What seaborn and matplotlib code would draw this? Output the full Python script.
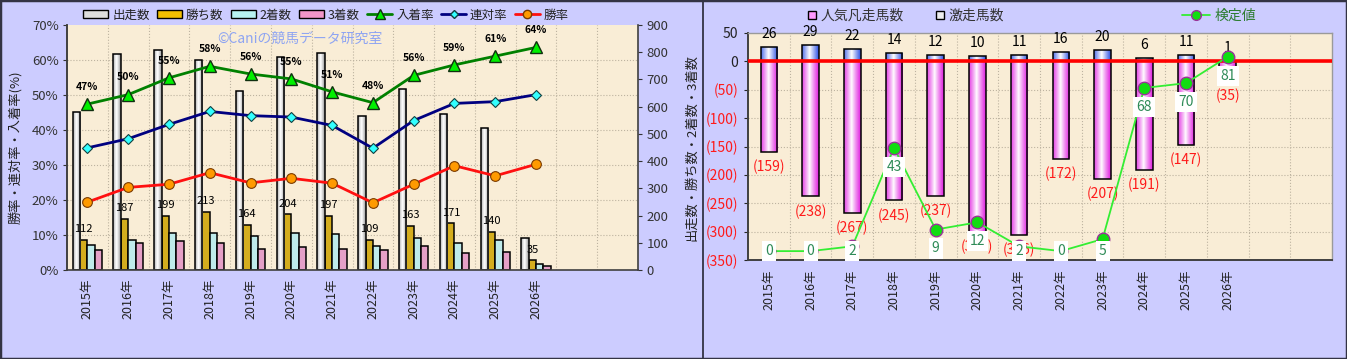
import numpy as np
import pandas as pd
import matplotlib
matplotlib.use("Agg")
import matplotlib.pyplot as plt
import matplotlib.colors as mcolors
import seaborn as sns
from matplotlib.patches import Rectangle, Patch
from matplotlib.lines import Line2D
from matplotlib.ticker import FixedLocator, FuncFormatter

# ---------------- data ----------------
years = ['2015年', '2016年', '2017年', '2018年', '2019年', '2020年',
         '2021年', '2022年', '2023年', '2024年', '2025年', '2026年']
runs = [579, 793, 808, 770, 659, 781, 798, 567, 664, 574, 520, 116]
wins = [112, 187, 199, 213, 164, 204, 197, 109, 163, 171, 140, 35]
seconds = [91, 109, 137, 135, 126, 137, 132, 88, 119, 100, 109, 21]
thirds = [72, 100, 108, 98, 78, 83, 78, 73, 88, 61, 66, 15]
place_rate = [47.4, 50.1, 54.9, 58.2, 56.0, 54.6, 50.9, 47.8, 55.6, 58.6, 61.1, 63.6]
quinella_rate = [34.9, 37.5, 41.6, 45.3, 44.1, 43.7, 41.3, 34.8, 42.7, 47.6, 48.1, 50.1]
win_rate = [19.4, 23.6, 24.5, 27.8, 24.9, 26.2, 24.8, 19.2, 24.5, 29.8, 26.9, 30.2]
bar_series = ['出走数', '勝ち数', '2着数', '3着数']
line_series = ['入着率', '連対率', '勝率']

gekisou = [26, 29, 22, 14, 12, 10, 11, 16, 20, 6, 11, 1]
ninki_bonsou = [159, 238, 267, 245, 237, 300, 306, 172, 207, 191, 147, 35]
kentei = [0, 0, 2, 43, 9, 12, 2, 0, 5, 68, 70, 81]
right_series = ['人気凡走馬数', '激走馬数', '検定値']

# ---------------- style ----------------
sns.set_style("white")
plt.rcParams['font.family'] = ['Noto Sans CJK JP', 'DejaVu Sans']
plt.rcParams['axes.unicode_minus'] = False

BG = '#CCCCFF'
PLOT_BG = '#F9EDD6'
GRID = '#BDB3A0'
TXT = '#333333'

W, H = 1347, 359
fig = plt.figure(figsize=(W / 100, H / 100), dpi=100, facecolor=BG)


def fx(px):
    return px / W


def fy(py):
    return 1 - py / H


def cylinder(ax, patches, edge, center, power=1.3):
    e = np.array(mcolors.to_rgb(edge))
    c = np.array(mcolors.to_rgb(center))
    t = np.linspace(-1, 1, 101)
    wgt = 1 - np.abs(t + 0.1) ** power
    wgt = np.clip(wgt, 0, 1)
    img = e[None, :] * (1 - wgt[:, None]) + c[None, :] * wgt[:, None]
    img = img[None, :, :]
    for p in patches:
        x0, w_ = p.get_x(), p.get_width()
        y0, h = p.get_y(), p.get_height()
        lo, hi = sorted([y0, y0 + h])
        if hi - lo == 0:
            continue
        z = p.get_zorder()
        im = ax.imshow(img, extent=[x0, x0 + w_, lo, hi], origin='lower',
                       aspect='auto', interpolation='bilinear', zorder=z + 0.01)
        im.set_clip_path(p)
        p.set_facecolor('none')
        p.set_zorder(z + 0.02)


n = len(years)
xpos = np.arange(n)

# ================= LEFT CHART =================
axL = fig.add_axes([fx(67), fy(270), fx(638 - 67), (270 - 25) / H])
axL.set_facecolor(PLOT_BG)

df_bars = pd.DataFrame({
    'year': np.repeat(years, 4),
    'series': bar_series * n,
    'value': np.ravel(np.column_stack([runs, wins, seconds, thirds])),
})
bar_colors = ['#F2F2F2', '#F2BE00', '#B8F2F2', '#F095C8']
sns.barplot(data=df_bars, x='year', y='value', hue='series', order=years,
            hue_order=bar_series, palette=bar_colors, width=0.72, gap=0,
            edgecolor='black', linewidth=1.1, errorbar=None, legend=False,
            ax=axL, zorder=2)
cylinder(axL, axL.containers[0].patches, '#9A9A9A', '#FFFFFF', power=1.2)

axL.set_xlim(-0.5, 13.5)
axL.set_ylim(0, 900)
for k in range(1, 7):
    axL.axhline(900 * k / 7, color=GRID, ls=':', lw=0.8, zorder=0.5)
for i in range(13):
    axL.axvline(i + 0.5, color=GRID, ls=':', lw=0.8, zorder=0.5)

# 勝ち数 labels
gold_patches = axL.containers[1].patches
for p, v in zip(gold_patches, wins):
    axL.text(p.get_x() + p.get_width() / 2, v + 40, str(v), ha='center',
             va='center', fontsize=8, color='black', zorder=5)

# rate lines on a twin axis (its ticks go to the left side)
axL2 = axL.twinx()

axL.yaxis.tick_right()
axL.yaxis.set_label_position('right')
axL.yaxis.set_major_locator(FixedLocator(range(0, 901, 100)))
axL.set_ylabel('出走数・勝ち数・2着数・3着数', fontsize=9.5, color='#222222')
axL.yaxis.set_label_coords((685 - 67) / 571, 0.5)
axL.set_xlabel('')
axL.set_xticks(xpos)
axL.set_xticklabels(years, rotation=90, fontsize=9, color='#222222')
axL.tick_params(axis='y', direction='out', length=3, labelsize=9.5, colors=TXT, pad=3)
axL.tick_params(axis='x', length=0, pad=6)
for s in ['left', 'bottom', 'right']:
    axL.spines[s].set_color('#404040')
    axL.spines[s].set_linewidth(1.2)
axL.spines['top'].set_visible(False)

axL2.yaxis.tick_left()
axL2.yaxis.set_label_position('left')
for s in ['top', 'right', 'bottom']:
    axL2.spines[s].set_visible(False)
axL2.spines['left'].set_color('#404040')
axL2.spines['left'].set_linewidth(1.2)

sns.lineplot(x=xpos, y=place_rate, ax=axL2, color='#008000', lw=2,
             marker='^', markersize=9, markerfacecolor='#00F000',
             markeredgecolor='#103010', markeredgewidth=1)
sns.lineplot(x=xpos, y=quinella_rate, ax=axL2, color='#000080', lw=2,
             marker='D', markersize=5.5, markerfacecolor='#33FFFF',
             markeredgecolor='#104040', markeredgewidth=0.8)
sns.lineplot(x=xpos, y=win_rate, ax=axL2, color='#FF1010', lw=2,
             marker='o', markersize=7, markerfacecolor='#FF9A00',
             markeredgecolor='#7A3A00', markeredgewidth=0.8)
for x, v in zip(xpos, place_rate):
    axL2.text(x, v + 4.9, f'{v:.0f}%', ha='center', va='center', fontsize=7.5,
              fontweight='bold', color='black')

axL2.set_ylim(0, 70)
axL2.set_xlim(-0.5, 13.5)
axL2.yaxis.set_major_locator(FixedLocator(range(0, 71, 10)))
axL2.yaxis.set_major_formatter(FuncFormatter(lambda v, _: f'{v:.0f}%'))
axL2.tick_params(axis='y', direction='out', length=3, labelsize=9.5, colors=TXT, pad=3)
axL2.set_ylabel('勝率・連対率・入着率(%)', fontsize=9.5, color='#222222')
axL2.yaxis.set_label_coords(-(67 - 22) / 571, 0.5)
axL2.text((300 - 67) / 571, (270 - 39) / 245, '©Caniの競馬データ研究室',
          transform=axL2.transAxes, ha='center', va='center', fontsize=10,
          color='#8EA4F2')

# left legend
hL = [Patch(facecolor=c, edgecolor='black', lw=1) for c in bar_colors]
hL[0] = Patch(facecolor='#DDDDDD', edgecolor='black', lw=1)
hL += [
    Line2D([], [], color='#008000', lw=2, marker='^', markersize=7,
           markerfacecolor='#00F000', markeredgecolor='#103010'),
    Line2D([], [], color='#000080', lw=2, marker='D', markersize=4.5,
           markerfacecolor='#33FFFF', markeredgecolor='#104040'),
    Line2D([], [], color='#FF1010', lw=2, marker='o', markersize=6,
           markerfacecolor='#FF9A00', markeredgecolor='#7A3A00'),
]
fig.legend(hL, bar_series + line_series, loc='center',
           bbox_to_anchor=(fx(326), fy(15)), ncol=7, frameon=False,
           fontsize=9, handlelength=2.0, handleheight=0.6,
           columnspacing=0.6, handletextpad=0.3, labelcolor='#222222')

# ================= RIGHT CHART =================
axR = fig.add_axes([fx(748), fy(260), fx(1332 - 748), (260 - 33) / H])
axR.set_facecolor(PLOT_BG)

sns.barplot(x=years, y=gekisou, order=years, color='#4D6BE8', width=0.4,
            edgecolor='black', linewidth=1.1, errorbar=None, ax=axR, zorder=2)
sns.barplot(x=years, y=[-v for v in ninki_bonsou], order=years,
            color='#F050F0', width=0.4, edgecolor='black', linewidth=1.1,
            errorbar=None, ax=axR, zorder=2)
cylinder(axR, axR.containers[0].patches, '#3D5EE6', '#FFFFFF', power=1.0)
cylinder(axR, axR.containers[1].patches, '#E22EE2', '#FFFFFF', power=0.9)

axR.set_xlim(-0.5, 13.5)
axR.set_ylim(-350, 50)
for yv in range(-300, 50, 50):
    axR.axhline(yv, color=GRID, ls=':', lw=0.8, zorder=0.5)
for i in range(13):
    axR.axvline(i + 0.5, color=GRID, ls=':', lw=0.8, zorder=0.5)
axR.axhline(0, color='#FF0000', lw=2.6, zorder=3)

for x, v in zip(xpos, gekisou):
    axR.text(x, v + 23, str(v), ha='center', va='center', fontsize=10,
             color='black', zorder=5)
for x, v in zip(xpos, ninki_bonsou):
    axR.text(x, -v - 26.5, f'({v})', ha='center', va='center', fontsize=10,
             color='#FF1A1A', zorder=5)

rticks = list(range(50, -351, -50))
axR.yaxis.set_major_locator(FixedLocator(rticks))
axR.yaxis.set_major_formatter(
    FuncFormatter(lambda v, _: f'{v:.0f}' if v >= 0 else f'({-v:.0f})'))
axR.tick_params(axis='y', direction='out', length=3, labelsize=10, pad=4)
for lab, tv in zip(axR.get_yticklabels(), rticks):
    lab.set_color('#222222' if tv >= 0 else '#FF1A1A')
axR.set_xticks(xpos)
axR.set_xticklabels(years, rotation=90, fontsize=9, color='#222222')
axR.tick_params(axis='x', length=0, pad=7)
axR.set_xlabel('')
axR.set_ylabel('')
for s in ['left', 'bottom']:
    axR.spines[s].set_color('#404040')
    axR.spines[s].set_linewidth(1.4)
for s in ['top', 'right']:
    axR.spines[s].set_color('#9A9A9A')
    axR.spines[s].set_linewidth(1.0)

axR2 = axR.twinx()
axR2.set_ylim(-3.7, 90.9)
axR2.set_xlim(-0.5, 13.5)
axR2.axis('off')
sns.lineplot(x=xpos, y=kentei, ax=axR2, color='#33EE33', lw=1.3, marker='o',
             markersize=9, markerfacecolor='#11DD11', markeredgecolor='#993399',
             markeredgewidth=1)
for x, v in zip(xpos, kentei):
    ylab = max(v - 7.9, 0.1)
    axR2.text(x, ylab, str(v), ha='center', va='center', fontsize=10,
              color='#2E8B57',
              bbox=dict(facecolor='white', edgecolor='none', pad=2.2))

hR = [Line2D([], [], ls='', marker='s', markersize=6, markerfacecolor='#FF99FF',
             markeredgecolor='black'),
      Line2D([], [], ls='', marker='s', markersize=6, markerfacecolor='#EEEEEE',
             markeredgecolor='black')]
fig.legend(hR, right_series[:2], loc='center', bbox_to_anchor=(fx(905), fy(16)),
           ncol=2, frameon=False, fontsize=10, handlelength=0.8,
           handletextpad=0.2, columnspacing=2.2, labelcolor='#333333')
hR2 = [Line2D([], [], color='#33EE33', lw=1.3, marker='o', markersize=7,
              markerfacecolor='#11DD11', markeredgecolor='#993399')]
fig.legend(hR2, right_series[2:], loc='center', bbox_to_anchor=(fx(1219), fy(16)),
           frameon=False, fontsize=10, handlelength=2.0, handletextpad=0.3,
           labelcolor='#2E7D32')

# panel borders
fig.add_artist(Rectangle((0, 0), 1, 1, transform=fig.transFigure, fill=False,
                         edgecolor='#333344', lw=2.5))
fig.add_artist(Line2D([fx(703), fx(703)], [0, 1], transform=fig.transFigure,
                      color='#333344', lw=1.3))

fig.savefig('out.png', dpi=100, facecolor=BG)
